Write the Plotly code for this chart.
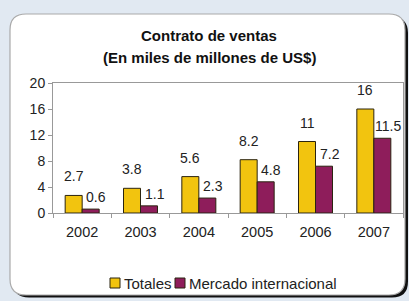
import plotly.graph_objects as go

years = ["2002", "2003", "2004", "2005", "2006", "2007"]
totales = [2.7, 3.8, 5.6, 8.2, 11, 16]
mercado = [0.6, 1.1, 2.3, 4.8, 7.2, 11.5]
y_ticks = [0, 4, 8, 12, 16, 20]
title_lines = ["Contrato de ventas", "(En miles de millones de US$)"]
series_names = ["Totales", "Mercado internacional"]

W, H = 409, 301
L, R, T, B = 53, 403, 83, 213  # plot area in pixels

def fx(px):
    return (px - L) / (R - L)

def fy(py):
    return (B - py) / (B - T)

def rrect(x0, y0, x1, y1, r):
    p = []
    p.append(f"M {fx(x0 + r)} {fy(y0)}")
    p.append(f"L {fx(x1 - r)} {fy(y0)}")
    p.append(f"Q {fx(x1)} {fy(y0)} {fx(x1)} {fy(y0 + r)}")
    p.append(f"L {fx(x1)} {fy(y1 - r)}")
    p.append(f"Q {fx(x1)} {fy(y1)} {fx(x1 - r)} {fy(y1)}")
    p.append(f"L {fx(x0 + r)} {fy(y1)}")
    p.append(f"Q {fx(x0)} {fy(y1)} {fx(x0)} {fy(y1 - r)}")
    p.append(f"L {fx(x0)} {fy(y0 + r)}")
    p.append(f"Q {fx(x0)} {fy(y0)} {fx(x0 + r)} {fy(y0)}")
    p.append("Z")
    return " ".join(p)

FONT = "Liberation Sans, Arial, sans-serif"
yellow = "#F2C40F"
purple = "#8E1D5B"
outline = "#2b2410"
colors = [yellow, purple]

fig = go.Figure()
fig.add_trace(go.Bar(x=years, y=totales, name=series_names[0],
                     marker=dict(color=yellow, line=dict(color=outline, width=1))))
fig.add_trace(go.Bar(x=years, y=mercado, name=series_names[1],
                     marker=dict(color=purple, line=dict(color=outline, width=1))))

annotations = []
for i, (a, b) in enumerate(zip(totales, mercado)):
    annotations.append(dict(x=i - 0.1458, y=a, xref="x", yref="y", text=f"{a:g}",
                            showarrow=False, yanchor="bottom", yshift=9,
                            font=dict(family=FONT, size=14, color="#222")))
    annotations.append(dict(x=i + 0.1458, y=b, xref="x", yref="y", text=f"{b:g}",
                            showarrow=False, yanchor="bottom", yshift=2, xshift=5.5,
                            font=dict(family=FONT, size=14, color="#222")))
for k, (line, py) in enumerate(zip(title_lines, [35, 57])):
    annotations.append(dict(x=fx(209), y=fy(py), xref="paper", yref="paper",
                            text=f"<b>{line}</b>", showarrow=False,
                            xanchor="center", yanchor="middle",
                            font=dict(family=FONT, size=15, color="#111")))

shapes = [
    dict(type="path", xref="paper", yref="paper", path=rrect(13, 17, 408, 297.5, 16),
         fillcolor="#111", line=dict(width=0), layer="below"),
    dict(type="path", xref="paper", yref="paper", path=rrect(10, 14, 405, 295, 16),
         fillcolor="white", line=dict(color="#aaaaaa", width=1.2), layer="below"),
]

# compact legend (square + label for each series)
legend_x = [110, 175]
for name, col, lx in zip(series_names, colors, legend_x):
    shapes.append(dict(type="rect", xref="paper", yref="paper",
                       x0=fx(lx), x1=fx(lx + 10), y0=fy(288), y1=fy(278),
                       fillcolor=col, line=dict(color=outline, width=1)))
    annotations.append(dict(x=fx(lx + 12), y=fy(283), xref="paper", yref="paper",
                            text=name, showarrow=False, xanchor="left", yanchor="middle",
                            font=dict(family=FONT, size=15, color="#222")))

fig.update_layout(
    width=W, height=H,
    margin=dict(l=L, r=W - R, t=T, b=H - B, pad=0, autoexpand=False),
    paper_bgcolor="#e1e9f2",
    plot_bgcolor="rgba(0,0,0,0)",
    barmode="group", bargap=0.417, bargroupgap=0,
    font=dict(family=FONT, size=14, color="#222"),
    showlegend=False,
    xaxis=dict(type="category", showline=True, linecolor="#999", linewidth=1, mirror=True,
               ticks="outside", ticklen=4, tickcolor="#999", tickson="boundaries",
               showgrid=False, ticklabelstandoff=6, automargin=False,
               tickfont=dict(family=FONT, size=14.5, color="#222")),
    yaxis=dict(range=[0, 20], tickvals=y_ticks, showline=True, linecolor="#999", linewidth=1,
               mirror=True, ticks="outside", ticklen=4, tickcolor="#999", showgrid=False,
               zeroline=False, automargin=False,
               tickfont=dict(family=FONT, size=14, color="#222")),
    annotations=annotations,
    shapes=shapes,
)

fig.write_html("out.html", config={"displayModeBar": False},
               post_script="document.body.style.margin='0';document.body.style.background='#e1e9f2';")
